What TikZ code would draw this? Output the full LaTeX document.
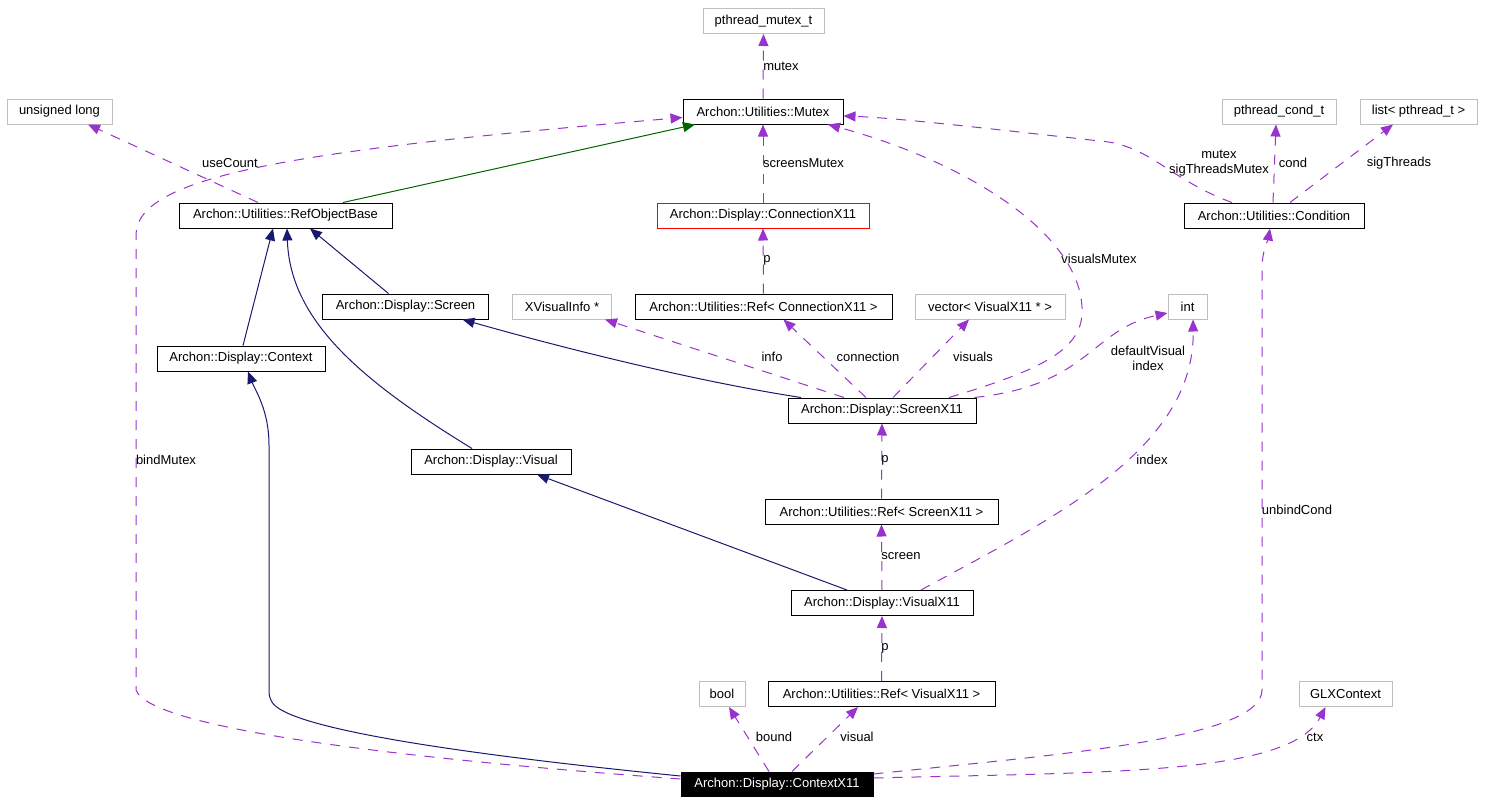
\documentclass[tikz,border=0pt]{standalone}
\usepackage{fontspec}
\setmainfont{Liberation Sans}
\usetikzlibrary{arrows.meta}
\definecolor{depc}{HTML}{9A32CD}
\definecolor{inhc}{HTML}{191970}
\definecolor{grnc}{HTML}{006400}
\definecolor{grayc}{HTML}{BFBFBF}
\newcommand{\nf}{\fontsize{13}{15}\selectfont}
\begin{document}
\begin{tikzpicture}[x=1pt,y=-1pt,
  cls/.style={draw=black, line width=1pt, minimum height=25pt, inner xsep=2pt, inner ysep=0pt, font=\nf},
  ext/.style={cls, draw=grayc},
  redbox/.style={cls, draw=red},
  cur/.style={cls, fill=black, text=white, minimum height=24pt},
  tip/.style={-{Triangle[length=12pt,width=10pt]}},
  dep/.style={draw=depc, line width=1pt, dash pattern=on 10pt off 9pt, tip},
  inh/.style={draw=inhc, line width=1pt, tip},
  inhg/.style={draw=grnc, line width=1pt, tip},
  lbl/.style={font=\nf, inner sep=0pt, align=center}]
\useasboundingbox (0,0) rectangle (1492,803);
% nodes
\node[ext, minimum width=121pt] (pmt) at (763.5,21) {pthread\_mutex\_t};
\node[ext, minimum width=105pt] (ulong) at (59.5,111.5) {unsigned long};
\node[cls, minimum width=160pt] (mutex) at (763,111.5) {Archon::Utilities::Mutex};
\node[ext, minimum width=114pt] (pcond) at (1279,111.5) {pthread\_cond\_t};
\node[ext, minimum width=117pt] (plist) at (1418.5,111.5) {list< pthread\_t >};
\node[cls, minimum width=213pt] (rob) at (285.5,215.5) {Archon::Utilities::RefObjectBase};
\node[redbox, minimum width=212pt] (conn) at (763,215.5) {Archon::Display::ConnectionX11};
\node[cls, minimum width=180pt] (cond) at (1274,215.5) {Archon::Utilities::Condition};
\node[cls, minimum width=166pt] (screen) at (405.5,306.5) {Archon::Display::Screen};
\node[ext, minimum width=99pt] (xvi) at (562,306.5) {XVisualInfo *};
\node[cls, minimum width=257pt] (refconn) at (763.5,306.5) {Archon::Utilities::Ref< ConnectionX11 >};
\node[ext, minimum width=150pt] (vec) at (990,306.5) {vector< VisualX11 * >};
\node[ext, minimum width=39pt] (int) at (1187.5,306.5) {int};
\node[cls, minimum width=168pt] (context) at (241,358.5) {Archon::Display::Context};
\node[cls, minimum width=188pt] (screenx) at (882,410.5) {Archon::Display::ScreenX11};
\node[cls, minimum width=160pt] (visual) at (491,461.5) {Archon::Display::Visual};
\node[cls, minimum width=233pt] (refscr) at (881.5,511.5) {Archon::Utilities::Ref< ScreenX11 >};
\node[cls, minimum width=182pt] (visx) at (882,603) {Archon::Display::VisualX11};
\node[ext, minimum width=46pt] (bool) at (722,694) {bool};
\node[cls, minimum width=227pt] (refvis) at (881.5,694) {Archon::Utilities::Ref< VisualX11 >};
\node[ext, minimum width=93pt] (glx) at (1345.5,694) {GLXContext};
\node[cur, minimum width=192pt] (ctxx) at (777,784) {Archon::Display::ContextX11};
% inheritance
\draw[inhg] ([xshift=57.5pt]rob.north) -- ([xshift=-68pt]mutex.south);
\draw[inh] ([xshift=2pt]context.north) -- ([xshift=-12.5pt]rob.south);
\draw[inh] ([xshift=-19pt]visual.north) .. controls (360,380) and (290,320) .. ([xshift=1.5pt]rob.south);
\draw[inh] ([xshift=-17pt]screen.north) -- ([xshift=24.5pt]rob.south);
\draw[inh] ([xshift=-81pt]screenx.north) .. controls (700,382) and (570,350) .. ([xshift=57pt]screen.south);
\draw[inh] ([xshift=-35pt]visx.north) -- ([xshift=46pt]visual.south);
\draw[inh] ([yshift=8pt]ctxx.west) .. controls (420,750) and (285,725) .. (272,702) .. controls (269,697) and (269,694) .. (269,688) -- (269,445) .. controls (269,410) and (255,390) .. ([xshift=7pt]context.south);
% usage
\draw[dep] (mutex.north) -- (pmt.south);
\node[lbl] (lmutex) at (781,66) {mutex};
\draw[dep] (conn.north) -- (mutex.south);
\node[lbl] (lscreensmutex) at (803.5,163) {screensMutex};
\draw[dep] ([yshift=5pt]ctxx.west) .. controls (420,760) and (150,730) .. (136,690) -- (136,235) .. controls (136,175) and (300,150) .. ([yshift=-6pt]mutex.west);
\node[lbl] (lbindmutex) at (166,460) {bindMutex};
\draw[dep] ([xshift=67pt]screenx.north) .. controls (1040,370) and (1085,350) .. (1082,307) .. controls (1078,230) and (960,160) .. ([xshift=65pt]mutex.south);
\node[lbl] (lvisualsmutex) at (1099,259) {visualsMutex};
\draw[dep] ([xshift=-42pt]cond.north) .. controls (1170,180) and (1150,145) .. (1100,141) .. controls (1000,130) and (900,118) .. ([yshift=-4.5pt]mutex.east);
\node[lbl] (lcondmutex) at (1219,163) {mutex\\sigThreadsMutex};
\draw[dep] ([xshift=-27.5pt]rob.north) -- ([xshift=28.5pt]ulong.south);
\node[lbl] (lusecount) at (230,163) {useCount};
\draw[dep] ([xshift=-1pt]cond.north) -- ([xshift=-3pt]pcond.south);
\node[lbl] (lcond) at (1293,163) {cond};
\draw[dep] ([xshift=16pt]cond.north) -- ([xshift=-25.5pt]plist.south);
\node[lbl] (lsigthreads) at (1399,163) {sigThreads};
\draw[dep] (refconn.north) -- (conn.south);
\node[lbl] (lp1) at (767,260) {p};
\draw[dep] ([xshift=-38pt]screenx.north) -- ([xshift=43pt]xvi.south);
\node[lbl] (linfo) at (772,357) {info};
\draw[dep] ([xshift=-16pt]screenx.north) -- ([xshift=20pt]refconn.south);
\node[lbl] (lconnection) at (868,357) {connection};
\draw[dep] ([xshift=11pt]screenx.north) -- ([xshift=-21pt]vec.south);
\node[lbl] (lvisuals) at (973,357) {visuals};
\draw[dep] ([xshift=-2pt]screenx.north east) .. controls (1090,385) and (1090,330) .. ([yshift=-6.5pt]int.west);
\node[lbl] (ldefvis) at (1148,358) {defaultVisual\\index};
\draw[dep] ([xshift=39pt]visx.north) .. controls (1050,520) and (1195,450) .. ([xshift=5.5pt]int.south);
\node[lbl] (lindex) at (1152,460) {index};
\draw[dep] (refscr.north) -- (screenx.south);
\node[lbl] (lp2) at (885,460) {p};
\draw[dep] (visx.north) -- (refscr.south);
\node[lbl] (lscreen) at (901,556) {screen};
\draw[dep] (refvis.north) -- (visx.south);
\node[lbl] (lp3) at (885,648) {p};
\draw[dep] ([xshift=-8pt]ctxx.north) -- ([xshift=7pt]bool.south);
\node[lbl] (lbound) at (774,737) {bound};
\draw[dep] ([xshift=15pt]ctxx.north) -- ([xshift=-23.5pt]refvis.south);
\node[lbl] (lvisual) at (857,737) {visual};
\draw[dep] ([yshift=10pt]ctxx.east) .. controls (1050,755) and (1262,740) .. (1262,690) -- (1262,270) .. controls (1262,250) and (1268,240) .. ([xshift=-4pt]cond.south);
\node[lbl] (lunbind) at (1297,510) {unbindCond};
\draw[dep] ([yshift=6pt]ctxx.east) .. controls (1110,772) and (1290,775) .. ([xshift=-20pt]glx.south);
\node[lbl] (lctx) at (1315,737) {ctx};
\end{tikzpicture}
\end{document}
